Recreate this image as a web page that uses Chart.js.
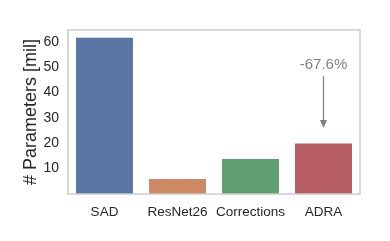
<!DOCTYPE html>
<html>
<head>
<meta charset="utf-8">
<script src="https://cdn.jsdelivr.net/npm/chart.js@4/dist/chart.umd.min.js"></script>
<style>
  html, body { margin: 0; padding: 0; background: #fff; }
  #wrap { width: 390px; height: 241px; }
</style>
</head>
<body>
<div id="wrap"><canvas id="paramChart"></canvas></div>
<script>
// data
const methods = ["SAD", "ResNet26", "Corrections", "ADRA"];
const params = [61.5, 5.9, 13.8, 19.9];
const barColors = ["#5875a4", "#cc8963", "#5f9e6e", "#b55d60"];
const yTicks = [10, 20, 30, 40, 50, 60];
const reduction = "-67.6%";
// annotation positions in data units (ADRA bar)
const noteValue = 50.8;
const arrowFrom = 46.4;
const arrowTo = 26.0;

const fontFamily = "'Liberation Sans', Arial, sans-serif";

// plot frame and the arrow note above ADRA
const framePlugin = {
  id: "frame",
  afterDraw(chart) {
    const ctx = chart.ctx;
    const a = chart.chartArea;
    ctx.save();
    ctx.strokeStyle = "#cccccc";
    ctx.lineWidth = 1.5;
    ctx.strokeRect(a.left, a.top, a.right - a.left, a.bottom - a.top);

    const x = chart.scales.x.getPixelForValue(3);
    const y = chart.scales.y;
    ctx.fillStyle = "#808080";
    ctx.font = "15px " + fontFamily;
    ctx.textAlign = "center";
    ctx.textBaseline = "middle";
    ctx.fillText(reduction, x, y.getPixelForValue(noteValue));

    const y0 = y.getPixelForValue(arrowFrom);
    const y1 = y.getPixelForValue(arrowTo);
    ctx.strokeStyle = "#808080";
    ctx.lineWidth = 1.3;
    ctx.beginPath();
    ctx.moveTo(x, y0);
    ctx.lineTo(x, y1 - 6);
    ctx.stroke();
    ctx.beginPath();
    ctx.moveTo(x, y1);
    ctx.lineTo(x - 3.5, y1 - 8);
    ctx.lineTo(x + 3.5, y1 - 8);
    ctx.closePath();
    ctx.fill();
    ctx.restore();
  }
};

new Chart(document.getElementById("paramChart"), {
  type: "bar",
  data: {
    labels: methods,
    datasets: [{
      data: params,
      backgroundColor: barColors,
      borderWidth: 0,
      barPercentage: 0.78,
      categoryPercentage: 1.0
    }]
  },
  options: {
    responsive: true,
    maintainAspectRatio: false,
    animation: false,
    layout: { padding: { left: 0, right: 30, top: 30, bottom: 0 } },
    plugins: {
      legend: { display: false },
      tooltip: { enabled: false }
    },
    scales: {
      x: {
        grid: { display: false, drawTicks: false },
        border: { display: false },
        ticks: {
          color: "#262626",
          padding: 10,
          autoSkip: false,
          maxRotation: 0,
          minRotation: 0,
          font: { family: fontFamily, size: 13.5 }
        },
        afterFit(s) { s.height = 47; }
      },
      y: {
        min: 0,
        max: 64.6,
        grid: { display: false, drawTicks: false },
        border: { display: false },
        afterBuildTicks(s) { s.ticks = yTicks.map(v => ({ value: v })); },
        ticks: {
          color: "#262626",
          padding: 9,
          font: { family: fontFamily, size: 14 }
        },
        title: {
          display: true,
          text: "# Parameters [mil]",
          color: "#262626",
          padding: { top: 20, bottom: 0 },
          font: { family: fontFamily, size: 18 }
        },
        afterFit(s) { s.width = 68; }
      }
    }
  },
  plugins: [framePlugin]
});
</script>
</body>
</html>
